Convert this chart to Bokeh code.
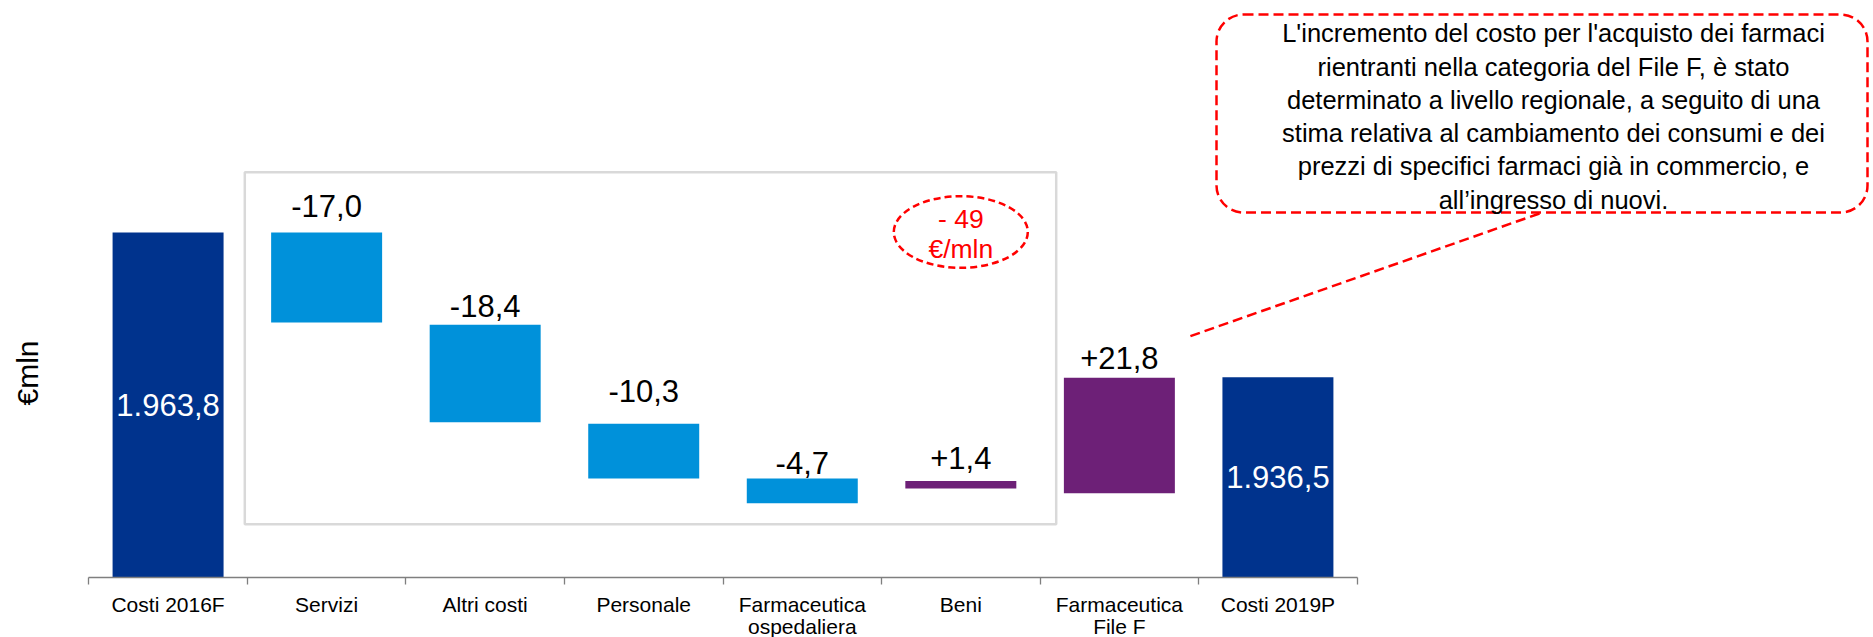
import math
from bokeh.plotting import figure
from bokeh.models import ColumnDataSource, FixedTicker, Label, BoxAnnotation, Range1d
from bokeh.core.properties import value
from bokeh.embed import file_html
from bokeh.resources import INLINE

# ---------------- data ----------------
categories = ["Costi 2016F", "Servizi", "Altri costi", "Personale",
              "Farmaceutica\nospedaliera", "Beni", "Farmaceutica\nFile F", "Costi 2019P"]
kinds = ["total", "dec", "dec", "dec", "dec", "inc", "inc", "total"]
values = [1963.8, -17.0, -18.4, -10.3, -4.7, 1.4, 21.8, 1936.5]
# level at which each step starts; totals start at the axis floor
bar_start = [None, 1963.8, 1946.4, 1927.7, 1917.4, 1915.5, 1914.6, None]
value_labels = ["1.963,8", "-17,0", "-18,4", "-10,3", "-4,7", "+1,4", "+21,8", "1.936,5"]
y_floor = 1898.7
box_total_text = "- 49\n€/mln"
note_text = ("L'incremento del costo per l'acquisto dei farmaci\n"
             "rientranti nella categoria del File F, è stato\n"
             "determinato a livello regionale, a seguito di una\n"
             "stima relativa al cambiamento dei consumi e dei\n"
             "prezzi di specifici farmaci già in commercio, e\n"
             "all\u2019ingresso di nuovi.")
y_title = "€mln"

# ---------------- styles ----------------
FONT = "Liberation Sans"
C_TOTAL = "#00338D"
C_DEC = "#0091DA"
C_INC = "#6D2077"
RED = "#FF0000"
label_gap_px = [0, 26.7, 19, 32.6, 15, 23.3, 20, 0]   # bar top -> label centre

FRAME_W, FRAME_H = 1873, 577
CAT_PX = 158.55
X0_PX = 88.3            # x of first category boundary
PX_PER_UNIT = 5.3
AXIS_PY = 577.0         # y of the axis

def X(px):   # page px -> data x
    return (px - X0_PX) / CAT_PX

def Y(py):   # page py -> data y
    return y_floor + (AXIS_PY - py) / PX_PER_UNIT

colors = {"total": C_TOTAL, "dec": C_DEC, "inc": C_INC}
xs, bottoms, tops, fills = [], [], [], []
for i, (k, v, s) in enumerate(zip(kinds, values, bar_start)):
    xs.append(i + 0.5)
    if k == "total":
        b, t = y_floor, v
    else:
        b, t = min(s, s + v), max(s, s + v)
    bottoms.append(b)
    tops.append(t)
    fills.append(colors[k])

src = ColumnDataSource(dict(x=xs, bottom=bottoms, top=tops, color=fills))

p = figure(frame_width=FRAME_W, frame_height=FRAME_H,
           x_range=Range1d(-X0_PX / CAT_PX, (FRAME_W - X0_PX) / CAT_PX),
           y_range=Range1d(y_floor, y_floor + FRAME_H / PX_PER_UNIT),
           y_axis_location=None, toolbar_location=None, output_backend="svg",
           min_border=0, outline_line_color=None)
p.grid.visible = False
p.background_fill_color = "white"
p.border_fill_color = "white"

p.vbar(x="x", width=0.70, bottom="bottom", top="top", fill_color="color",
       line_color=None, source=src)

# value labels
out_x, out_y, out_t = [], [], []
in_x, in_y, in_t = [], [], []
for i, k in enumerate(kinds):
    if k == "total":
        in_x.append(xs[i]); in_y.append((bottoms[i] + tops[i]) / 2); in_t.append(value_labels[i])
    else:
        out_x.append(xs[i]); out_y.append(tops[i] + label_gap_px[i] / PX_PER_UNIT); out_t.append(value_labels[i])

p.text(x=out_x, y=out_y, text=out_t, text_align="center", text_baseline="middle",
       text_font=value(FONT), text_font_size="31px", text_color="#000000")
p.text(x=in_x, y=in_y, text=in_t, text_align="center", text_baseline="middle",
       text_font=value(FONT), text_font_size="31px", text_color="#FFFFFF")

# x axis
ax = p.xaxis[0]
ax.ticker = FixedTicker(ticks=xs, minor_ticks=list(range(len(categories) + 1)))
ax.major_label_overrides = {x: c for x, c in zip(xs, categories)}
ax.bounds = (0, len(categories))
ax.axis_line_color = "#7F7F7F"
ax.axis_line_width = 1.3
ax.major_tick_line_color = None
ax.major_tick_out = 0
ax.major_tick_in = 0
ax.minor_tick_line_color = "#7F7F7F"
ax.minor_tick_line_width = 1.3
ax.minor_tick_out = 7
ax.minor_tick_in = 0
ax.major_label_standoff = 8
ax.major_label_text_font = FONT
ax.major_label_text_font_size = "21px"
ax.major_label_text_color = "#000000"
ax.major_label_text_line_height = 0.98

# grey frame around the detail bars
p.add_layout(BoxAnnotation(left=X(244.3), right=X(1055.7), top=Y(171.7), bottom=Y(523.7),
                           fill_alpha=0, line_color="#D9D9D9", line_alpha=1.0, line_width=2.5))

# dashed ellipse with total
p.ellipse(x=[X(960.3)], y=[Y(231.5)], width=[134 / CAT_PX], height=[71.6 / PX_PER_UNIT],
          fill_color=None, line_color=RED, line_width=2.5, line_dash="7 4")
p.add_layout(Label(x=X(960.3), y=Y(233.3), text=box_total_text, text_align="center",
                   text_baseline="middle", text_font=FONT, text_font_size="26.5px",
                   text_color=RED, text_line_height=1.013))

# callout
p.add_layout(BoxAnnotation(left=X(1216), right=X(1867), top=Y(14), bottom=Y(212),
                           fill_alpha=0, line_color=RED, line_alpha=1.0, line_width=2.5,
                           line_dash="10 5", border_radius=27))
p.segment(x0=[X(1539)], y0=[Y(213)], x1=[X(1186)], y1=[Y(337)],
          line_color=RED, line_width=2.5, line_dash="10 5")
p.add_layout(Label(x=X(1553), y=Y(116), text=note_text, text_align="center",
                   text_baseline="middle", text_font=FONT, text_font_size="25.5px",
                   text_color="#000000", text_line_height=1.19))

# y title
p.add_layout(Label(x=X(26.5), y=Y(372.5), text=y_title, angle=math.pi / 2,
                   text_align="center", text_baseline="middle", text_font=FONT,
                   text_font_size="30px", text_color="#000000"))

open("out.html", "w").write(file_html(p, INLINE))
